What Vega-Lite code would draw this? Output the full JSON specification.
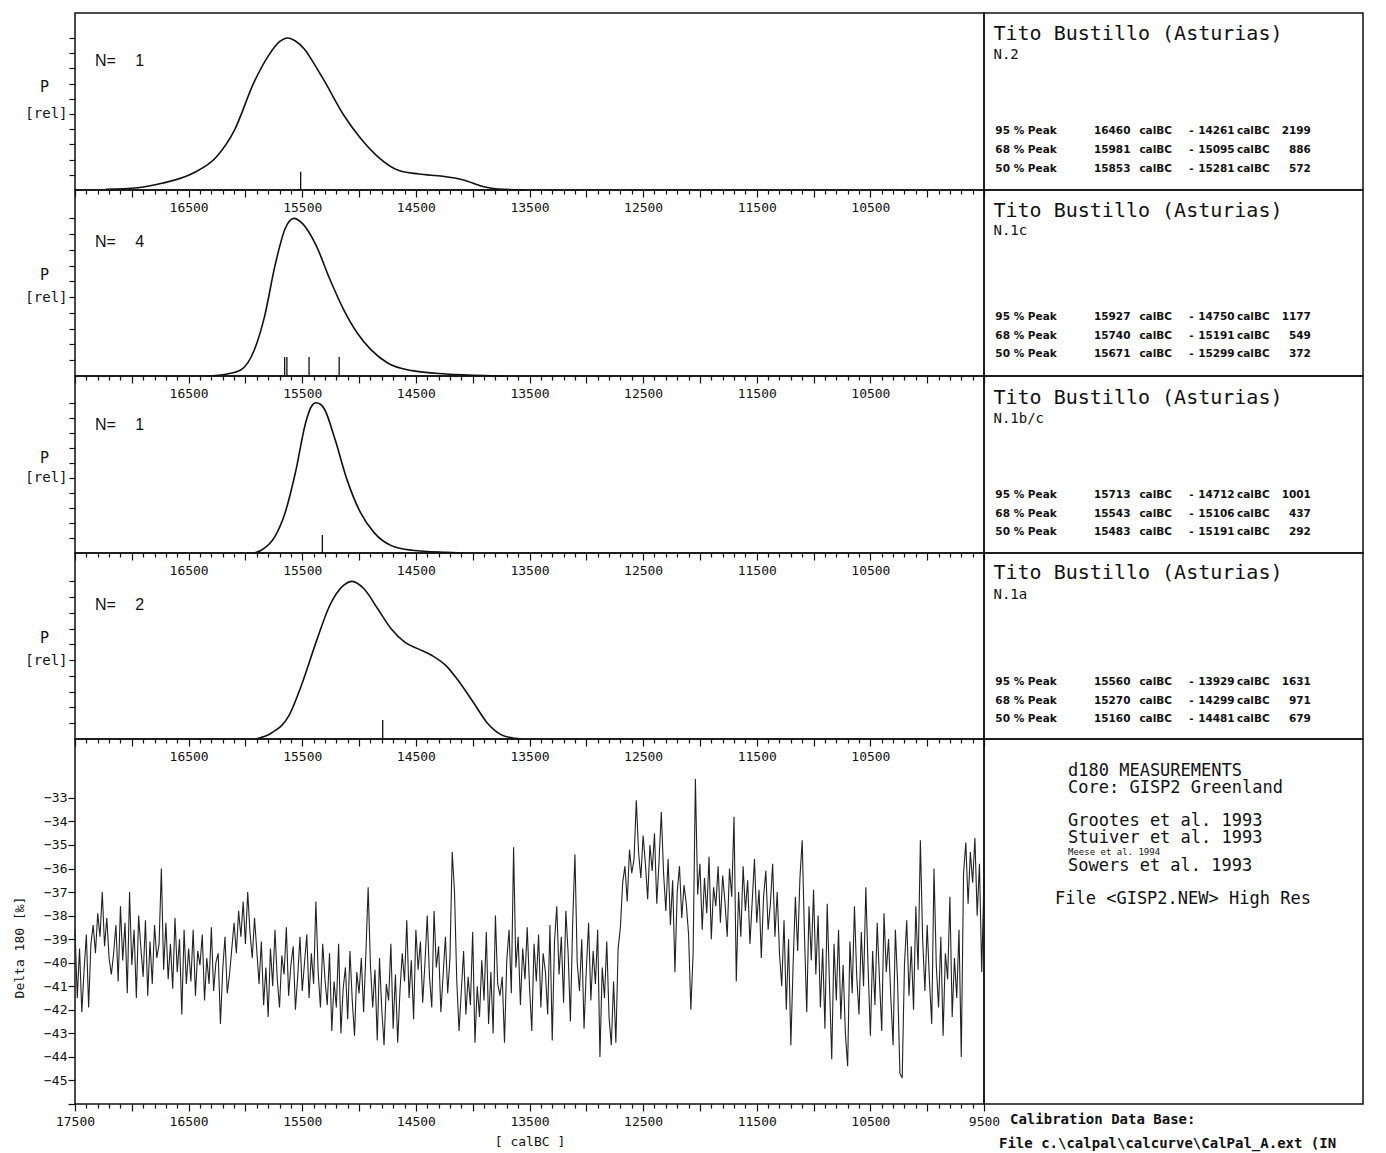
{
"$schema":"https://vega.github.io/schema/vega-lite/v6.json",
"background":"white",
"padding":{"left":12,"top":12,"right":0,"bottom":0},
"bounds":"flush",
"spacing":0,
"columns":2,
"align":"each",
"config":{
 "view":{"stroke":"#111","strokeWidth":1.5},
 "axis":{"labelFont":"DejaVu Sans Mono","labelColor":"#111","tickColor":"#111","tickWidth":1.2,"titleFont":"DejaVu Sans Mono","titleColor":"#111","titleFontWeight":"normal","domain":false,"grid":false,"labelOverlap":false,"labelFlush":false,"labelBound":false},
 "text":{"color":"#111"}
},
"datasets":{
 "samples":[
  {"sample":"N.2","site":"Tito Bustillo (Asturias)","n":1},
  {"sample":"N.1c","site":"Tito Bustillo (Asturias)","n":4},
  {"sample":"N.1b/c","site":"Tito Bustillo (Asturias)","n":1},
  {"sample":"N.1a","site":"Tito Bustillo (Asturias)","n":2}
 ],
 "ranges":[
  {"sample":"N.2","level":"95 % Peak","from":16460,"to":14261,"span":2199},
  {"sample":"N.2","level":"68 % Peak","from":15981,"to":15095,"span":886},
  {"sample":"N.2","level":"50 % Peak","from":15853,"to":15281,"span":572},
  {"sample":"N.1c","level":"95 % Peak","from":15927,"to":14750,"span":1177},
  {"sample":"N.1c","level":"68 % Peak","from":15740,"to":15191,"span":549},
  {"sample":"N.1c","level":"50 % Peak","from":15671,"to":15299,"span":372},
  {"sample":"N.1b/c","level":"95 % Peak","from":15713,"to":14712,"span":1001},
  {"sample":"N.1b/c","level":"68 % Peak","from":15543,"to":15106,"span":437},
  {"sample":"N.1b/c","level":"50 % Peak","from":15483,"to":15191,"span":292},
  {"sample":"N.1a","level":"95 % Peak","from":15560,"to":13929,"span":1631},
  {"sample":"N.1a","level":"68 % Peak","from":15270,"to":14299,"span":971},
  {"sample":"N.1a","level":"50 % Peak","from":15160,"to":14481,"span":679}
 ],
 "markers":[
  {"sample":"N.2","age":15514},
  {"sample":"N.1c","age":15655},{"sample":"N.1c","age":15635},{"sample":"N.1c","age":15440},{"sample":"N.1c","age":15175},
  {"sample":"N.1b/c","age":15323},
  {"sample":"N.1a","age":14792}
 ],
 "density":[
  {"sample":"N.2","age":17232,"p":0.005},{"sample":"N.2","age":16946,"p":0.015},{"sample":"N.2","age":16734,"p":0.044},{"sample":"N.2","age":16463,"p":0.11},{"sample":"N.2","age":16252,"p":0.22},{"sample":"N.2","age":16102,"p":0.385},{"sample":"N.2","age":15921,"p":0.714},{"sample":"N.2","age":15800,"p":0.88},{"sample":"N.2","age":15700,"p":0.975},{"sample":"N.2","age":15630,"p":1.0},{"sample":"N.2","age":15560,"p":0.98},{"sample":"N.2","age":15480,"p":0.925},{"sample":"N.2","age":15409,"p":0.846},{"sample":"N.2","age":15303,"p":0.714},{"sample":"N.2","age":15137,"p":0.495},{"sample":"N.2","age":14987,"p":0.34},{"sample":"N.2","age":14836,"p":0.22},{"sample":"N.2","age":14655,"p":0.13},{"sample":"N.2","age":14474,"p":0.105},{"sample":"N.2","age":14263,"p":0.09},{"sample":"N.2","age":14082,"p":0.066},{"sample":"N.2","age":13901,"p":0.022},{"sample":"N.2","age":13781,"p":0.007},{"sample":"N.2","age":13540,"p":0.0},
  {"sample":"N.1c","age":16343,"p":0.0},{"sample":"N.1c","age":16162,"p":0.013},{"sample":"N.1c","age":16042,"p":0.038},{"sample":"N.1c","age":15921,"p":0.167},{"sample":"N.1c","age":15831,"p":0.38},{"sample":"N.1c","age":15740,"p":0.7},{"sample":"N.1c","age":15650,"p":0.936},{"sample":"N.1c","age":15575,"p":1.0},{"sample":"N.1c","age":15499,"p":0.968},{"sample":"N.1c","age":15379,"p":0.83},{"sample":"N.1c","age":15258,"p":0.615},{"sample":"N.1c","age":15137,"p":0.423},{"sample":"N.1c","age":15016,"p":0.273},{"sample":"N.1c","age":14896,"p":0.167},{"sample":"N.1c","age":14745,"p":0.081},{"sample":"N.1c","age":14534,"p":0.034},{"sample":"N.1c","age":14233,"p":0.013},{"sample":"N.1c","age":13842,"p":0.002},{"sample":"N.1c","age":13720,"p":0.0},
  {"sample":"N.1b/c","age":15921,"p":0.0},{"sample":"N.1b/c","age":15861,"p":0.018},{"sample":"N.1b/c","age":15740,"p":0.11},{"sample":"N.1b/c","age":15650,"p":0.27},{"sample":"N.1b/c","age":15560,"p":0.536},{"sample":"N.1b/c","age":15469,"p":0.87},{"sample":"N.1b/c","age":15420,"p":0.975},{"sample":"N.1b/c","age":15379,"p":1.0},{"sample":"N.1b/c","age":15340,"p":0.99},{"sample":"N.1b/c","age":15303,"p":0.955},{"sample":"N.1b/c","age":15213,"p":0.76},{"sample":"N.1b/c","age":15107,"p":0.49},{"sample":"N.1b/c","age":14987,"p":0.268},{"sample":"N.1b/c","age":14866,"p":0.134},{"sample":"N.1b/c","age":14716,"p":0.049},{"sample":"N.1b/c","age":14534,"p":0.018},{"sample":"N.1b/c","age":14233,"p":0.004},{"sample":"N.1b/c","age":14082,"p":0.0},
  {"sample":"N.1a","age":15907,"p":0.0},{"sample":"N.1a","age":15771,"p":0.038},{"sample":"N.1a","age":15620,"p":0.145},{"sample":"N.1a","age":15499,"p":0.357},{"sample":"N.1a","age":15379,"p":0.613},{"sample":"N.1a","age":15258,"p":0.847},{"sample":"N.1a","age":15137,"p":0.974},{"sample":"N.1a","age":15062,"p":1.0},{"sample":"N.1a","age":14957,"p":0.953},{"sample":"N.1a","age":14836,"p":0.826},{"sample":"N.1a","age":14716,"p":0.698},{"sample":"N.1a","age":14595,"p":0.613},{"sample":"N.1a","age":14474,"p":0.57},{"sample":"N.1a","age":14354,"p":0.528},{"sample":"N.1a","age":14233,"p":0.464},{"sample":"N.1a","age":14113,"p":0.357},{"sample":"N.1a","age":13992,"p":0.23},{"sample":"N.1a","age":13872,"p":0.102},{"sample":"N.1a","age":13751,"p":0.028},{"sample":"N.1a","age":13630,"p":0.004},{"sample":"N.1a","age":13571,"p":0.0}
 ],
 "gisp2":[
{"age":17500,"d18O":-38.6},{"age":17480,"d18O":-41.5},{"age":17460,"d18O":-39.4},{"age":17440,"d18O":-42.1},{"age":17420,"d18O":-40.3},{"age":17400,"d18O":-38.8},{"age":17380,"d18O":-41.9},{"age":17360,"d18O":-39.2},
{"age":17340,"d18O":-38.4},{"age":17320,"d18O":-39.6},{"age":17300,"d18O":-37.9},{"age":17280,"d18O":-38.9},{"age":17260,"d18O":-37.0},{"age":17240,"d18O":-39.3},{"age":17220,"d18O":-38.1},
{"age":17200,"d18O":-39.8},{"age":17180,"d18O":-40.5},{"age":17160,"d18O":-39.6},
{"age":17140,"d18O":-38.4},{"age":17120,"d18O":-40.8},{"age":17100,"d18O":-37.6},{"age":17080,"d18O":-39.9},{"age":17060,"d18O":-38.3},{"age":17040,"d18O":-41.3},{"age":17020,"d18O":-37.0},{"age":17000,"d18O":-40.1},{"age":16980,"d18O":-38.6},{"age":16960,"d18O":-41.5},{"age":16940,"d18O":-38.0},{"age":16920,"d18O":-39.4},{"age":16900,"d18O":-40.6},
{"age":16880,"d18O":-38.2},{"age":16860,"d18O":-41.4},{"age":16840,"d18O":-39.1},{"age":16820,"d18O":-40.9},{"age":16800,"d18O":-38.4},{"age":16780,"d18O":-39.8},
{"age":16760,"d18O":-39.2},{"age":16740,"d18O":-36.0},{"age":16720,"d18O":-40.3},
{"age":16700,"d18O":-38.3},{"age":16680,"d18O":-40.7},{"age":16660,"d18O":-39.2},{"age":16640,"d18O":-41.1},{"age":16620,"d18O":-38.1},{"age":16600,"d18O":-40.4},{"age":16580,"d18O":-39.0},{"age":16560,"d18O":-42.2},{"age":16540,"d18O":-38.6},{"age":16520,"d18O":-40.9},{"age":16500,"d18O":-39.4},
{"age":16480,"d18O":-40.8},{"age":16460,"d18O":-38.6},{"age":16440,"d18O":-41.4},{"age":16420,"d18O":-39.5},{"age":16400,"d18O":-40.1},{"age":16380,"d18O":-38.8},{"age":16360,"d18O":-41.6},{"age":16340,"d18O":-39.8},{"age":16320,"d18O":-40.9},{"age":16300,"d18O":-38.5},{"age":16280,"d18O":-41.2},{"age":16260,"d18O":-40.0},{"age":16240,"d18O":-39.6},{"age":16220,"d18O":-42.6},{"age":16200,"d18O":-40.3},{"age":16180,"d18O":-38.9},{"age":16160,"d18O":-41.3},{"age":16140,"d18O":-40.5},{"age":16120,"d18O":-39.4},
{"age":16100,"d18O":-38.3},{"age":16080,"d18O":-39.6},{"age":16060,"d18O":-37.8},{"age":16040,"d18O":-38.9},{"age":16020,"d18O":-37.4},{"age":16000,"d18O":-39.2},{"age":15980,"d18O":-37.0},{"age":15960,"d18O":-38.7},{"age":15940,"d18O":-39.8},{"age":15920,"d18O":-38.1},{"age":15900,"d18O":-39.5},
{"age":15880,"d18O":-40.9},{"age":15860,"d18O":-39.1},{"age":15840,"d18O":-41.8},{"age":15820,"d18O":-40.2},{"age":15800,"d18O":-42.3},{"age":15780,"d18O":-39.4},{"age":15760,"d18O":-41.0},{"age":15740,"d18O":-38.6},{"age":15720,"d18O":-40.7},{"age":15700,"d18O":-41.9},{"age":15680,"d18O":-39.7},{"age":15660,"d18O":-40.5},{"age":15640,"d18O":-38.5},{"age":15620,"d18O":-41.4},{"age":15600,"d18O":-40.1},{"age":15580,"d18O":-39.3},{"age":15560,"d18O":-42.0},{"age":15540,"d18O":-40.6},{"age":15520,"d18O":-38.9},{"age":15500,"d18O":-41.2},
{"age":15480,"d18O":-40.0},{"age":15460,"d18O":-38.8},{"age":15440,"d18O":-41.5},{"age":15420,"d18O":-39.6},{"age":15400,"d18O":-40.9},{"age":15380,"d18O":-37.4},{"age":15360,"d18O":-40.4},{"age":15340,"d18O":-41.9},{"age":15320,"d18O":-39.2},{"age":15300,"d18O":-40.7},
{"age":15280,"d18O":-41.8},{"age":15260,"d18O":-39.6},{"age":15240,"d18O":-42.9},{"age":15220,"d18O":-40.8},{"age":15200,"d18O":-41.9},{"age":15180,"d18O":-39.2},{"age":15160,"d18O":-43.0},{"age":15140,"d18O":-41.1},{"age":15120,"d18O":-40.2},{"age":15100,"d18O":-42.4},{"age":15080,"d18O":-39.5},{"age":15060,"d18O":-41.6},{"age":15040,"d18O":-43.1},{"age":15020,"d18O":-40.4},{"age":15000,"d18O":-41.3},{"age":14980,"d18O":-39.8},{"age":14960,"d18O":-42.1},
{"age":14940,"d18O":-39.6},{"age":14920,"d18O":-36.8},{"age":14900,"d18O":-40.1},
{"age":14880,"d18O":-41.9},{"age":14860,"d18O":-40.3},{"age":14840,"d18O":-43.3},{"age":14820,"d18O":-39.8},{"age":14800,"d18O":-42.0},{"age":14780,"d18O":-43.5},{"age":14760,"d18O":-40.9},{"age":14740,"d18O":-41.6},{"age":14720,"d18O":-39.2},{"age":14700,"d18O":-42.8},{"age":14680,"d18O":-40.5},{"age":14660,"d18O":-43.4},{"age":14640,"d18O":-41.2},
{"age":14620,"d18O":-39.6},{"age":14600,"d18O":-40.8},{"age":14580,"d18O":-38.2},{"age":14560,"d18O":-41.5},{"age":14540,"d18O":-39.9},{"age":14520,"d18O":-42.4},{"age":14500,"d18O":-38.6},{"age":14480,"d18O":-40.3},{"age":14460,"d18O":-39.1},{"age":14440,"d18O":-41.7},{"age":14420,"d18O":-40.0},{"age":14400,"d18O":-38.0},{"age":14380,"d18O":-40.6},{"age":14360,"d18O":-41.9},{"age":14340,"d18O":-37.8},{"age":14320,"d18O":-40.2},{"age":14300,"d18O":-39.3},{"age":14280,"d18O":-42.1},{"age":14260,"d18O":-40.5},{"age":14240,"d18O":-38.9},{"age":14220,"d18O":-41.3},{"age":14200,"d18O":-39.8},
{"age":14180,"d18O":-35.3},{"age":14160,"d18O":-37.0},
{"age":14140,"d18O":-40.8},{"age":14120,"d18O":-42.9},{"age":14100,"d18O":-41.2},{"age":14080,"d18O":-39.5},{"age":14060,"d18O":-42.2},{"age":14040,"d18O":-40.6},{"age":14020,"d18O":-41.8},{"age":14000,"d18O":-38.7},{"age":13980,"d18O":-43.4},{"age":13960,"d18O":-41.0},{"age":13940,"d18O":-42.3},{"age":13920,"d18O":-39.9},{"age":13900,"d18O":-41.6},
{"age":13880,"d18O":-38.7},{"age":13860,"d18O":-42.6},{"age":13840,"d18O":-40.4},{"age":13820,"d18O":-43.0},
{"age":13800,"d18O":-38.0},{"age":13780,"d18O":-40.9},{"age":13760,"d18O":-41.4},{"age":13740,"d18O":-40.6},{"age":13720,"d18O":-43.4},
{"age":13700,"d18O":-39.9},{"age":13680,"d18O":-38.6},{"age":13660,"d18O":-41.3},{"age":13640,"d18O":-35.1},{"age":13620,"d18O":-40.2},{"age":13600,"d18O":-38.9},{"age":13580,"d18O":-41.8},{"age":13560,"d18O":-39.4},{"age":13540,"d18O":-40.7},{"age":13520,"d18O":-38.5},{"age":13500,"d18O":-41.0},
{"age":13480,"d18O":-42.9},{"age":13460,"d18O":-39.2},{"age":13440,"d18O":-40.8},{"age":13420,"d18O":-38.8},{"age":13400,"d18O":-41.9},{"age":13380,"d18O":-39.6},{"age":13360,"d18O":-40.4},{"age":13340,"d18O":-42.2},
{"age":13320,"d18O":-38.4},{"age":13300,"d18O":-43.3},{"age":13280,"d18O":-39.1},{"age":13260,"d18O":-37.6},{"age":13240,"d18O":-40.5},{"age":13220,"d18O":-38.9},{"age":13200,"d18O":-41.7},{"age":13180,"d18O":-37.8},{"age":13160,"d18O":-39.6},{"age":13140,"d18O":-42.5},{"age":13120,"d18O":-38.3},{"age":13100,"d18O":-35.4},{"age":13080,"d18O":-40.0},
{"age":13060,"d18O":-41.2},{"age":13040,"d18O":-39.0},{"age":13020,"d18O":-42.8},{"age":13000,"d18O":-40.3},{"age":12980,"d18O":-38.3},{"age":12960,"d18O":-41.6},{"age":12940,"d18O":-39.5},{"age":12920,"d18O":-40.9},{"age":12900,"d18O":-38.6},{"age":12880,"d18O":-44.0},{"age":12860,"d18O":-40.2},{"age":12840,"d18O":-41.5},{"age":12820,"d18O":-39.1},{"age":12800,"d18O":-42.3},{"age":12780,"d18O":-43.5},{"age":12760,"d18O":-40.8},{"age":12740,"d18O":-43.4},{"age":12720,"d18O":-39.4},
{"age":12700,"d18O":-38.5},{"age":12680,"d18O":-36.6},{"age":12660,"d18O":-35.9},{"age":12640,"d18O":-37.4},{"age":12620,"d18O":-35.2},{"age":12600,"d18O":-36.2},{"age":12580,"d18O":-35.6},{"age":12560,"d18O":-33.1},
{"age":12540,"d18O":-35.3},{"age":12520,"d18O":-36.4},{"age":12500,"d18O":-34.6},{"age":12480,"d18O":-35.8},{"age":12460,"d18O":-37.3},{"age":12440,"d18O":-35.0},{"age":12420,"d18O":-36.1},{"age":12400,"d18O":-34.5},{"age":12380,"d18O":-37.5},{"age":12360,"d18O":-35.7},{"age":12340,"d18O":-33.6},
{"age":12320,"d18O":-36.2},{"age":12300,"d18O":-37.8},{"age":12280,"d18O":-35.6},{"age":12260,"d18O":-38.4},{"age":12240,"d18O":-36.5},{"age":12220,"d18O":-40.4},{"age":12200,"d18O":-37.0},{"age":12180,"d18O":-35.9},{"age":12160,"d18O":-38.1},{"age":12140,"d18O":-36.7},{"age":12120,"d18O":-37.5},
{"age":12100,"d18O":-38.8},{"age":12080,"d18O":-42.0},{"age":12060,"d18O":-39.6},{"age":12040,"d18O":-32.2},
{"age":12020,"d18O":-37.1},{"age":12000,"d18O":-35.8},{"age":11980,"d18O":-38.6},{"age":11960,"d18O":-36.4},{"age":11940,"d18O":-37.9},{"age":11920,"d18O":-35.5},{"age":11900,"d18O":-39.0},{"age":11880,"d18O":-36.8},{"age":11860,"d18O":-37.6},{"age":11840,"d18O":-35.9},{"age":11820,"d18O":-38.3},{"age":11800,"d18O":-36.3},{"age":11780,"d18O":-37.4},{"age":11760,"d18O":-38.9},{"age":11740,"d18O":-36.0},{"age":11720,"d18O":-37.2},{"age":11700,"d18O":-33.8},{"age":11680,"d18O":-40.8},
{"age":11660,"d18O":-37.0},{"age":11640,"d18O":-38.9},{"age":11620,"d18O":-35.9},{"age":11600,"d18O":-37.8},{"age":11580,"d18O":-36.5},{"age":11560,"d18O":-39.2},{"age":11540,"d18O":-37.4},{"age":11520,"d18O":-35.6},{"age":11500,"d18O":-38.3},{"age":11480,"d18O":-36.9},{"age":11460,"d18O":-39.8},{"age":11440,"d18O":-37.2},{"age":11420,"d18O":-36.1},{"age":11400,"d18O":-38.6},{"age":11380,"d18O":-37.5},{"age":11360,"d18O":-35.8},{"age":11340,"d18O":-38.9},{"age":11320,"d18O":-37.0},
{"age":11300,"d18O":-39.6},{"age":11280,"d18O":-41.0},{"age":11260,"d18O":-38.2},{"age":11240,"d18O":-42.0},{"age":11220,"d18O":-39.0},{"age":11200,"d18O":-43.5},{"age":11180,"d18O":-40.1},
{"age":11160,"d18O":-37.2},{"age":11140,"d18O":-39.5},{"age":11120,"d18O":-36.4},{"age":11100,"d18O":-34.8},{"age":11080,"d18O":-38.8},{"age":11060,"d18O":-42.1},{"age":11040,"d18O":-37.6},{"age":11020,"d18O":-39.9},{"age":11000,"d18O":-36.9},
{"age":10980,"d18O":-40.5},{"age":10960,"d18O":-38.0},{"age":10940,"d18O":-41.9},{"age":10920,"d18O":-39.4},{"age":10900,"d18O":-42.8},{"age":10880,"d18O":-37.5},{"age":10860,"d18O":-40.9},{"age":10840,"d18O":-44.1},{"age":10820,"d18O":-39.2},{"age":10800,"d18O":-41.6},{"age":10780,"d18O":-38.6},{"age":10760,"d18O":-42.4},{"age":10740,"d18O":-40.1},{"age":10720,"d18O":-43.0},{"age":10700,"d18O":-44.4},
{"age":10680,"d18O":-39.1},{"age":10660,"d18O":-41.3},{"age":10640,"d18O":-37.6},{"age":10620,"d18O":-40.6},{"age":10600,"d18O":-42.2},{"age":10580,"d18O":-38.7},{"age":10560,"d18O":-41.0},{"age":10540,"d18O":-36.8},{"age":10520,"d18O":-40.2},{"age":10500,"d18O":-43.1},{"age":10480,"d18O":-39.5},{"age":10460,"d18O":-41.8},{"age":10440,"d18O":-38.3},{"age":10420,"d18O":-40.7},{"age":10400,"d18O":-42.9},{"age":10380,"d18O":-37.9},{"age":10360,"d18O":-40.4},{"age":10340,"d18O":-39.0},{"age":10320,"d18O":-41.5},{"age":10300,"d18O":-43.5},{"age":10280,"d18O":-38.6},{"age":10260,"d18O":-40.9},{"age":10240,"d18O":-44.7},
{"age":10220,"d18O":-44.9},{"age":10200,"d18O":-40.1},{"age":10180,"d18O":-38.2},{"age":10160,"d18O":-41.4},{"age":10140,"d18O":-39.3},{"age":10120,"d18O":-42.0},{"age":10100,"d18O":-37.6},{"age":10080,"d18O":-40.3},{"age":10060,"d18O":-34.8},{"age":10040,"d18O":-39.0},
{"age":10020,"d18O":-41.2},{"age":10000,"d18O":-38.4},{"age":9980,"d18O":-40.8},{"age":9960,"d18O":-42.6},{"age":9940,"d18O":-36.0},{"age":9920,"d18O":-40.1},{"age":9900,"d18O":-41.9},{"age":9880,"d18O":-38.9},{"age":9860,"d18O":-43.1},{"age":9840,"d18O":-39.6},{"age":9820,"d18O":-40.7},{"age":9800,"d18O":-37.2},{"age":9780,"d18O":-42.3},{"age":9760,"d18O":-39.8},{"age":9740,"d18O":-41.5},{"age":9720,"d18O":-38.6},{"age":9700,"d18O":-44.0},
{"age":9680,"d18O":-36.2},{"age":9660,"d18O":-34.9},{"age":9640,"d18O":-37.5},{"age":9620,"d18O":-35.3},{"age":9600,"d18O":-36.6},{"age":9580,"d18O":-34.7},{"age":9560,"d18O":-38.0},{"age":9540,"d18O":-35.8},{"age":9520,"d18O":-40.4},{"age":9500,"d18O":-36.4}
 ]
},
"concat":[
  {"width":909,"height":177,
   "resolve":{"axis":{"x":"independent","y":"independent"}},
   "layer":[
    {"data":{"name":"density"},"transform":[{"filter":"datum.sample === 'N.2'"}],
     "mark":{"type":"line","interpolate":"monotone","color":"#111","strokeWidth":1.6},
     "encoding":{
      "x":{"field":"age","type":"quantitative","scale":{"domain":[9500,17500],"reverse":true,"nice":false,"zero":false},
        "axis":{"orient":"bottom","values":[9500,9600,9700,9800,9900,10000,10100,10200,10300,10400,10500,10600,10700,10800,10900,11000,11100,11200,11300,11400,11500,11600,11700,11800,11900,12000,12100,12200,12300,12400,12500,12600,12700,12800,12900,13000,13100,13200,13300,13400,13500,13600,13700,13800,13900,14000,14100,14200,14300,14400,14500,14600,14700,14800,14900,15000,15100,15200,15300,15400,15500,15600,15700,15800,15900,16000,16100,16200,16300,16400,16500,16600,16700,16800,16900,17000,17100,17200,17300,17400,17500],"format":"d","labelExpr":"(datum.value % 1000 === 500 && datum.value > 9500 && datum.value < 17500) ? datum.label : ''","labelOverlap":false,"tickSize":{"condition":{"test":"datum.value % 500 === 0","value":7},"value":4},"labelFontSize":13,"labelPadding":4,"title":null}},
      "y":{"field":"p","type":"quantitative","scale":{"domain":[0,1.164],"nice":false},
        "axis":{"orient":"left","values":[0.1,0.2,0.3,0.4,0.5,0.6,0.7,0.8,0.9,1],"labelExpr":"datum.value === 0.5 ? '[rel]' : ''","tickSize":6,"labelFontSize":14,"labelPadding":2,"title":"P","titleAngle":0,"titleX":-31,"titleY":73,"titleAlign":"center","titleBaseline":"middle","titleFontSize":15}}}},
    {"data":{"name":"markers"},"transform":[{"filter":"datum.sample === 'N.2'"}],
     "mark":{"type":"rule","color":"#111","strokeWidth":1.3},
     "encoding":{"x":{"field":"age","type":"quantitative","axis":null},"y":{"datum":0,"axis":null},"y2":{"datum":0.12}}},
    {"data":{"name":"samples"},"transform":[{"filter":"datum.sample === 'N.2'"}],
     "mark":{"type":"text","align":"left","baseline":"middle","font":"Liberation Sans","fontSize":16},
     "encoding":{"x":{"datum":17324,"axis":null},"y":{"datum":0.85,"axis":null},"text":{"value":"N="}}},
    {"data":{"name":"samples"},"transform":[{"filter":"datum.sample === 'N.2'"}],
     "mark":{"type":"text","align":"center","baseline":"middle","font":"Liberation Sans","fontSize":16},
     "encoding":{"x":{"datum":16931,"axis":null},"y":{"datum":0.85,"axis":null},"text":{"field":"n"}}}
   ]},
  {"width":379,"height":177,
   "resolve":{"scale":{"y":"independent"}},
   "layer":[
    {"data":{"name":"samples"},"transform":[{"filter":"datum.sample === 'N.2'"}],
     "encoding":{"x":{"datum":10,"type":"quantitative","scale":{"domain":[0,379]},"axis":null}},
     "layer":[
      {"mark":{"type":"text","align":"left","baseline":"middle","font":"DejaVu Sans Mono","fontSize":20},
       "encoding":{"y":{"datum":21,"type":"quantitative","scale":{"domain":[0,177],"reverse":true},"axis":null},"text":{"field":"site"}}},
      {"mark":{"type":"text","align":"left","baseline":"middle","font":"DejaVu Sans Mono","fontSize":14},
       "encoding":{"y":{"datum":43,"type":"quantitative"},"text":{"field":"sample"}}}
     ]},
    {"data":{"name":"ranges"},"transform":[{"filter":"datum.sample === 'N.2'"}],
     "encoding":{"y":{"field":"level","type":"ordinal","scale":{"type":"point","domain":["95 % Peak","68 % Peak","50 % Peak"],"range":[118,156],"padding":0},"axis":null}},
     "layer":[
      {"mark":{"type":"text","align":"left","baseline":"middle","font":"DejaVu Sans","fontWeight":"bold","fontSize":10.5},"encoding":{"x":{"datum":12,"type":"quantitative"},"text":{"field":"level"}}},
      {"mark":{"type":"text","align":"left","baseline":"middle","font":"DejaVu Sans","fontWeight":"bold","fontSize":10.5},"encoding":{"x":{"datum":116,"type":"quantitative"},"text":{"field":"from","type":"quantitative","format":"d"}}},
      {"mark":{"type":"text","align":"left","baseline":"middle","font":"DejaVu Sans","fontWeight":"bold","fontSize":10.5},"encoding":{"x":{"datum":164,"type":"quantitative"},"text":{"value":"calBC"}}},
      {"mark":{"type":"text","align":"center","baseline":"middle","font":"DejaVu Sans","fontWeight":"bold","fontSize":10.5},"encoding":{"x":{"datum":219,"type":"quantitative"},"text":{"value":"-"}}},
      {"mark":{"type":"text","align":"left","baseline":"middle","font":"DejaVu Sans","fontWeight":"bold","fontSize":10.5},"encoding":{"x":{"datum":226,"type":"quantitative"},"text":{"field":"to","type":"quantitative","format":"d"}}},
      {"mark":{"type":"text","align":"left","baseline":"middle","font":"DejaVu Sans","fontWeight":"bold","fontSize":10.5},"encoding":{"x":{"datum":267,"type":"quantitative"},"text":{"value":"calBC"}}},
      {"mark":{"type":"text","align":"right","baseline":"middle","font":"DejaVu Sans","fontWeight":"bold","fontSize":10.5},"encoding":{"x":{"datum":345,"type":"quantitative"},"text":{"field":"span","type":"quantitative","format":"d"}}}
     ]}
   ]},
  {"width":909,"height":186,
   "resolve":{"axis":{"x":"independent","y":"independent"}},
   "layer":[
    {"data":{"name":"density"},"transform":[{"filter":"datum.sample === 'N.1c'"}],
     "mark":{"type":"line","interpolate":"monotone","color":"#111","strokeWidth":1.6},
     "encoding":{
      "x":{"field":"age","type":"quantitative","scale":{"domain":[9500,17500],"reverse":true,"nice":false,"zero":false},
        "axis":{"orient":"bottom","values":[9500,9600,9700,9800,9900,10000,10100,10200,10300,10400,10500,10600,10700,10800,10900,11000,11100,11200,11300,11400,11500,11600,11700,11800,11900,12000,12100,12200,12300,12400,12500,12600,12700,12800,12900,13000,13100,13200,13300,13400,13500,13600,13700,13800,13900,14000,14100,14200,14300,14400,14500,14600,14700,14800,14900,15000,15100,15200,15300,15400,15500,15600,15700,15800,15900,16000,16100,16200,16300,16400,16500,16600,16700,16800,16900,17000,17100,17200,17300,17400,17500],"format":"d","labelExpr":"(datum.value % 1000 === 500 && datum.value > 9500 && datum.value < 17500) ? datum.label : ''","labelOverlap":false,"tickSize":{"condition":{"test":"datum.value % 500 === 0","value":7},"value":4},"labelFontSize":13,"labelPadding":4,"title":null}},
      "y":{"field":"p","type":"quantitative","scale":{"domain":[0,1.18],"nice":false},
        "axis":{"orient":"left","values":[0.1,0.2,0.3,0.4,0.5,0.6,0.7,0.8,0.9,1],"labelExpr":"datum.value === 0.5 ? '[rel]' : ''","tickSize":6,"labelFontSize":14,"labelPadding":2,"title":"P","titleAngle":0,"titleX":-31,"titleY":84,"titleAlign":"center","titleBaseline":"middle","titleFontSize":15}}}},
    {"data":{"name":"markers"},"transform":[{"filter":"datum.sample === 'N.1c'"}],
     "mark":{"type":"rule","color":"#111","strokeWidth":1.3},
     "encoding":{"x":{"field":"age","type":"quantitative","axis":null},"y":{"datum":0,"axis":null},"y2":{"datum":0.12}}},
    {"data":{"name":"samples"},"transform":[{"filter":"datum.sample === 'N.1c'"}],
     "mark":{"type":"text","align":"left","baseline":"middle","font":"Liberation Sans","fontSize":16},
     "encoding":{"x":{"datum":17324,"axis":null},"y":{"datum":0.85,"axis":null},"text":{"value":"N="}}},
    {"data":{"name":"samples"},"transform":[{"filter":"datum.sample === 'N.1c'"}],
     "mark":{"type":"text","align":"center","baseline":"middle","font":"Liberation Sans","fontSize":16},
     "encoding":{"x":{"datum":16931,"axis":null},"y":{"datum":0.85,"axis":null},"text":{"field":"n"}}}
   ]},
  {"width":379,"height":186,
   "resolve":{"scale":{"y":"independent"}},
   "layer":[
    {"data":{"name":"samples"},"transform":[{"filter":"datum.sample === 'N.1c'"}],
     "encoding":{"x":{"datum":10,"type":"quantitative","scale":{"domain":[0,379]},"axis":null}},
     "layer":[
      {"mark":{"type":"text","align":"left","baseline":"middle","font":"DejaVu Sans Mono","fontSize":20},
       "encoding":{"y":{"datum":23,"type":"quantitative","scale":{"domain":[0,186],"reverse":true},"axis":null},"text":{"field":"site"}}},
      {"mark":{"type":"text","align":"left","baseline":"middle","font":"DejaVu Sans Mono","fontSize":14},
       "encoding":{"y":{"datum":44,"type":"quantitative"},"text":{"field":"sample"}}}
     ]},
    {"data":{"name":"ranges"},"transform":[{"filter":"datum.sample === 'N.1c'"}],
     "encoding":{"y":{"field":"level","type":"ordinal","scale":{"type":"point","domain":["95 % Peak","68 % Peak","50 % Peak"],"range":[127,164],"padding":0},"axis":null}},
     "layer":[
      {"mark":{"type":"text","align":"left","baseline":"middle","font":"DejaVu Sans","fontWeight":"bold","fontSize":10.5},"encoding":{"x":{"datum":12,"type":"quantitative"},"text":{"field":"level"}}},
      {"mark":{"type":"text","align":"left","baseline":"middle","font":"DejaVu Sans","fontWeight":"bold","fontSize":10.5},"encoding":{"x":{"datum":116,"type":"quantitative"},"text":{"field":"from","type":"quantitative","format":"d"}}},
      {"mark":{"type":"text","align":"left","baseline":"middle","font":"DejaVu Sans","fontWeight":"bold","fontSize":10.5},"encoding":{"x":{"datum":164,"type":"quantitative"},"text":{"value":"calBC"}}},
      {"mark":{"type":"text","align":"center","baseline":"middle","font":"DejaVu Sans","fontWeight":"bold","fontSize":10.5},"encoding":{"x":{"datum":219,"type":"quantitative"},"text":{"value":"-"}}},
      {"mark":{"type":"text","align":"left","baseline":"middle","font":"DejaVu Sans","fontWeight":"bold","fontSize":10.5},"encoding":{"x":{"datum":226,"type":"quantitative"},"text":{"field":"to","type":"quantitative","format":"d"}}},
      {"mark":{"type":"text","align":"left","baseline":"middle","font":"DejaVu Sans","fontWeight":"bold","fontSize":10.5},"encoding":{"x":{"datum":267,"type":"quantitative"},"text":{"value":"calBC"}}},
      {"mark":{"type":"text","align":"right","baseline":"middle","font":"DejaVu Sans","fontWeight":"bold","fontSize":10.5},"encoding":{"x":{"datum":345,"type":"quantitative"},"text":{"field":"span","type":"quantitative","format":"d"}}}
     ]}
   ]},
  {"width":909,"height":177,
   "resolve":{"axis":{"x":"independent","y":"independent"}},
   "layer":[
    {"data":{"name":"density"},"transform":[{"filter":"datum.sample === 'N.1b/c'"}],
     "mark":{"type":"line","interpolate":"monotone","color":"#111","strokeWidth":1.6},
     "encoding":{
      "x":{"field":"age","type":"quantitative","scale":{"domain":[9500,17500],"reverse":true,"nice":false,"zero":false},
        "axis":{"orient":"bottom","values":[9500,9600,9700,9800,9900,10000,10100,10200,10300,10400,10500,10600,10700,10800,10900,11000,11100,11200,11300,11400,11500,11600,11700,11800,11900,12000,12100,12200,12300,12400,12500,12600,12700,12800,12900,13000,13100,13200,13300,13400,13500,13600,13700,13800,13900,14000,14100,14200,14300,14400,14500,14600,14700,14800,14900,15000,15100,15200,15300,15400,15500,15600,15700,15800,15900,16000,16100,16200,16300,16400,16500,16600,16700,16800,16900,17000,17100,17200,17300,17400,17500],"format":"d","labelExpr":"(datum.value % 1000 === 500 && datum.value > 9500 && datum.value < 17500) ? datum.label : ''","labelOverlap":false,"tickSize":{"condition":{"test":"datum.value % 500 === 0","value":7},"value":4},"labelFontSize":13,"labelPadding":4,"title":null}},
      "y":{"field":"p","type":"quantitative","scale":{"domain":[0,1.178],"nice":false},
        "axis":{"orient":"left","values":[0.1,0.2,0.3,0.4,0.5,0.6,0.7,0.8,0.9,1],"labelExpr":"datum.value === 0.5 ? '[rel]' : ''","tickSize":6,"labelFontSize":14,"labelPadding":2,"title":"P","titleAngle":0,"titleX":-31,"titleY":81,"titleAlign":"center","titleBaseline":"middle","titleFontSize":15}}}},
    {"data":{"name":"markers"},"transform":[{"filter":"datum.sample === 'N.1b/c'"}],
     "mark":{"type":"rule","color":"#111","strokeWidth":1.3},
     "encoding":{"x":{"field":"age","type":"quantitative","axis":null},"y":{"datum":0,"axis":null},"y2":{"datum":0.12}}},
    {"data":{"name":"samples"},"transform":[{"filter":"datum.sample === 'N.1b/c'"}],
     "mark":{"type":"text","align":"left","baseline":"middle","font":"Liberation Sans","fontSize":16},
     "encoding":{"x":{"datum":17324,"axis":null},"y":{"datum":0.85,"axis":null},"text":{"value":"N="}}},
    {"data":{"name":"samples"},"transform":[{"filter":"datum.sample === 'N.1b/c'"}],
     "mark":{"type":"text","align":"center","baseline":"middle","font":"Liberation Sans","fontSize":16},
     "encoding":{"x":{"datum":16931,"axis":null},"y":{"datum":0.85,"axis":null},"text":{"field":"n"}}}
   ]},
  {"width":379,"height":177,
   "resolve":{"scale":{"y":"independent"}},
   "layer":[
    {"data":{"name":"samples"},"transform":[{"filter":"datum.sample === 'N.1b/c'"}],
     "encoding":{"x":{"datum":10,"type":"quantitative","scale":{"domain":[0,379]},"axis":null}},
     "layer":[
      {"mark":{"type":"text","align":"left","baseline":"middle","font":"DejaVu Sans Mono","fontSize":20},
       "encoding":{"y":{"datum":22,"type":"quantitative","scale":{"domain":[0,177],"reverse":true},"axis":null},"text":{"field":"site"}}},
      {"mark":{"type":"text","align":"left","baseline":"middle","font":"DejaVu Sans Mono","fontSize":14},
       "encoding":{"y":{"datum":44,"type":"quantitative"},"text":{"field":"sample"}}}
     ]},
    {"data":{"name":"ranges"},"transform":[{"filter":"datum.sample === 'N.1b/c'"}],
     "encoding":{"y":{"field":"level","type":"ordinal","scale":{"type":"point","domain":["95 % Peak","68 % Peak","50 % Peak"],"range":[119,156],"padding":0},"axis":null}},
     "layer":[
      {"mark":{"type":"text","align":"left","baseline":"middle","font":"DejaVu Sans","fontWeight":"bold","fontSize":10.5},"encoding":{"x":{"datum":12,"type":"quantitative"},"text":{"field":"level"}}},
      {"mark":{"type":"text","align":"left","baseline":"middle","font":"DejaVu Sans","fontWeight":"bold","fontSize":10.5},"encoding":{"x":{"datum":116,"type":"quantitative"},"text":{"field":"from","type":"quantitative","format":"d"}}},
      {"mark":{"type":"text","align":"left","baseline":"middle","font":"DejaVu Sans","fontWeight":"bold","fontSize":10.5},"encoding":{"x":{"datum":164,"type":"quantitative"},"text":{"value":"calBC"}}},
      {"mark":{"type":"text","align":"center","baseline":"middle","font":"DejaVu Sans","fontWeight":"bold","fontSize":10.5},"encoding":{"x":{"datum":219,"type":"quantitative"},"text":{"value":"-"}}},
      {"mark":{"type":"text","align":"left","baseline":"middle","font":"DejaVu Sans","fontWeight":"bold","fontSize":10.5},"encoding":{"x":{"datum":226,"type":"quantitative"},"text":{"field":"to","type":"quantitative","format":"d"}}},
      {"mark":{"type":"text","align":"left","baseline":"middle","font":"DejaVu Sans","fontWeight":"bold","fontSize":10.5},"encoding":{"x":{"datum":267,"type":"quantitative"},"text":{"value":"calBC"}}},
      {"mark":{"type":"text","align":"right","baseline":"middle","font":"DejaVu Sans","fontWeight":"bold","fontSize":10.5},"encoding":{"x":{"datum":345,"type":"quantitative"},"text":{"field":"span","type":"quantitative","format":"d"}}}
     ]}
   ]},
  {"width":909,"height":186,
   "resolve":{"axis":{"x":"independent","y":"independent"}},
   "layer":[
    {"data":{"name":"density"},"transform":[{"filter":"datum.sample === 'N.1a'"}],
     "mark":{"type":"line","interpolate":"monotone","color":"#111","strokeWidth":1.6},
     "encoding":{
      "x":{"field":"age","type":"quantitative","scale":{"domain":[9500,17500],"reverse":true,"nice":false,"zero":false},
        "axis":{"orient":"bottom","values":[9500,9600,9700,9800,9900,10000,10100,10200,10300,10400,10500,10600,10700,10800,10900,11000,11100,11200,11300,11400,11500,11600,11700,11800,11900,12000,12100,12200,12300,12400,12500,12600,12700,12800,12900,13000,13100,13200,13300,13400,13500,13600,13700,13800,13900,14000,14100,14200,14300,14400,14500,14600,14700,14800,14900,15000,15100,15200,15300,15400,15500,15600,15700,15800,15900,16000,16100,16200,16300,16400,16500,16600,16700,16800,16900,17000,17100,17200,17300,17400,17500],"format":"d","labelExpr":"(datum.value % 1000 === 500 && datum.value > 9500 && datum.value < 17500) ? datum.label : ''","labelOverlap":false,"tickSize":{"condition":{"test":"datum.value % 500 === 0","value":7},"value":4},"labelFontSize":13,"labelPadding":4,"title":null}},
      "y":{"field":"p","type":"quantitative","scale":{"domain":[0,1.18],"nice":false},
        "axis":{"orient":"left","values":[0.1,0.2,0.3,0.4,0.5,0.6,0.7,0.8,0.9,1],"labelExpr":"datum.value === 0.5 ? '[rel]' : ''","tickSize":6,"labelFontSize":14,"labelPadding":2,"title":"P","titleAngle":0,"titleX":-31,"titleY":84,"titleAlign":"center","titleBaseline":"middle","titleFontSize":15}}}},
    {"data":{"name":"markers"},"transform":[{"filter":"datum.sample === 'N.1a'"}],
     "mark":{"type":"rule","color":"#111","strokeWidth":1.3},
     "encoding":{"x":{"field":"age","type":"quantitative","axis":null},"y":{"datum":0,"axis":null},"y2":{"datum":0.12}}},
    {"data":{"name":"samples"},"transform":[{"filter":"datum.sample === 'N.1a'"}],
     "mark":{"type":"text","align":"left","baseline":"middle","font":"Liberation Sans","fontSize":16},
     "encoding":{"x":{"datum":17324,"axis":null},"y":{"datum":0.85,"axis":null},"text":{"value":"N="}}},
    {"data":{"name":"samples"},"transform":[{"filter":"datum.sample === 'N.1a'"}],
     "mark":{"type":"text","align":"center","baseline":"middle","font":"Liberation Sans","fontSize":16},
     "encoding":{"x":{"datum":16931,"axis":null},"y":{"datum":0.85,"axis":null},"text":{"field":"n"}}}
   ]},
  {"width":379,"height":186,
   "resolve":{"scale":{"y":"independent"}},
   "layer":[
    {"data":{"name":"samples"},"transform":[{"filter":"datum.sample === 'N.1a'"}],
     "encoding":{"x":{"datum":10,"type":"quantitative","scale":{"domain":[0,379]},"axis":null}},
     "layer":[
      {"mark":{"type":"text","align":"left","baseline":"middle","font":"DejaVu Sans Mono","fontSize":20},
       "encoding":{"y":{"datum":21,"type":"quantitative","scale":{"domain":[0,186],"reverse":true},"axis":null},"text":{"field":"site"}}},
      {"mark":{"type":"text","align":"left","baseline":"middle","font":"DejaVu Sans Mono","fontSize":14},
       "encoding":{"y":{"datum":45,"type":"quantitative"},"text":{"field":"sample"}}}
     ]},
    {"data":{"name":"ranges"},"transform":[{"filter":"datum.sample === 'N.1a'"}],
     "encoding":{"y":{"field":"level","type":"ordinal","scale":{"type":"point","domain":["95 % Peak","68 % Peak","50 % Peak"],"range":[129,166],"padding":0},"axis":null}},
     "layer":[
      {"mark":{"type":"text","align":"left","baseline":"middle","font":"DejaVu Sans","fontWeight":"bold","fontSize":10.5},"encoding":{"x":{"datum":12,"type":"quantitative"},"text":{"field":"level"}}},
      {"mark":{"type":"text","align":"left","baseline":"middle","font":"DejaVu Sans","fontWeight":"bold","fontSize":10.5},"encoding":{"x":{"datum":116,"type":"quantitative"},"text":{"field":"from","type":"quantitative","format":"d"}}},
      {"mark":{"type":"text","align":"left","baseline":"middle","font":"DejaVu Sans","fontWeight":"bold","fontSize":10.5},"encoding":{"x":{"datum":164,"type":"quantitative"},"text":{"value":"calBC"}}},
      {"mark":{"type":"text","align":"center","baseline":"middle","font":"DejaVu Sans","fontWeight":"bold","fontSize":10.5},"encoding":{"x":{"datum":219,"type":"quantitative"},"text":{"value":"-"}}},
      {"mark":{"type":"text","align":"left","baseline":"middle","font":"DejaVu Sans","fontWeight":"bold","fontSize":10.5},"encoding":{"x":{"datum":226,"type":"quantitative"},"text":{"field":"to","type":"quantitative","format":"d"}}},
      {"mark":{"type":"text","align":"left","baseline":"middle","font":"DejaVu Sans","fontWeight":"bold","fontSize":10.5},"encoding":{"x":{"datum":267,"type":"quantitative"},"text":{"value":"calBC"}}},
      {"mark":{"type":"text","align":"right","baseline":"middle","font":"DejaVu Sans","fontWeight":"bold","fontSize":10.5},"encoding":{"x":{"datum":345,"type":"quantitative"},"text":{"field":"span","type":"quantitative","format":"d"}}}
     ]}
   ]},
  {"width":909,"height":365,
   "data":{"name":"gisp2"},
   "mark":{"type":"line","color":"#222","strokeWidth":1.1},
   "encoding":{
    "x":{"field":"age","type":"quantitative","scale":{"domain":[9500,17500],"reverse":true,"nice":false,"zero":false},
      "axis":{"values":[9500,9600,9700,9800,9900,10000,10100,10200,10300,10400,10500,10600,10700,10800,10900,11000,11100,11200,11300,11400,11500,11600,11700,11800,11900,12000,12100,12200,12300,12400,12500,12600,12700,12800,12900,13000,13100,13200,13300,13400,13500,13600,13700,13800,13900,14000,14100,14200,14300,14400,14500,14600,14700,14800,14900,15000,15100,15200,15300,15400,15500,15600,15700,15800,15900,16000,16100,16200,16300,16400,16500,16600,16700,16800,16900,17000,17100,17200,17300,17400,17500],"format":"d","labelExpr":"datum.value % 1000 === 500 ? datum.label : ''","labelOverlap":false,"tickSize":{"condition":{"test":"datum.value % 500 === 0","value":7},"value":4},"labelFontSize":13,"labelPadding":4,"title":"[ calBC ]","titleFontSize":13,"titlePadding":7}},
    "y":{"field":"d18O","type":"quantitative","scale":{"domain":[-46,-30.5],"nice":false,"zero":false},
      "axis":{"values":[-46,-45.5,-45,-44.5,-44,-43.5,-43,-42.5,-42,-41.5,-41,-40.5,-40,-39.5,-39,-38.5,-38,-37.5,-37,-36.5,-36,-35.5,-35,-34.5,-34,-33.5,-33],"format":"d","labelExpr":"(datum.value % 1 === 0 && datum.value >= -45) ? datum.label : ''","labelOverlap":false,"tickSize":{"condition":{"test":"datum.value % 1 === 0","value":7},"value":4},"labelFontSize":13,"labelPadding":1,"title":"Delta 180 [‰]","titleFontSize":13,"titlePadding":17,"titleY":208}}}},
  {"width":379,"height":365,
   "data":{"values":[{"core":"GISP2"}]},
   "encoding":{"x":{"datum":84,"type":"quantitative","scale":{"domain":[0,379]},"axis":null},"y":{"datum":0,"type":"quantitative","scale":{"domain":[0,365],"reverse":true},"axis":null}},
   "layer":[
    {"mark":{"type":"text","align":"left","baseline":"middle","font":"DejaVu Sans Mono","fontSize":17},"encoding":{"y":{"datum":32},"text":{"value":"d180 MEASUREMENTS"}}},
    {"mark":{"type":"text","align":"left","baseline":"middle","font":"DejaVu Sans Mono","fontSize":17},"encoding":{"y":{"datum":49},"text":{"value":"Core: GISP2 Greenland"}}},
    {"mark":{"type":"text","align":"left","baseline":"middle","font":"DejaVu Sans Mono","fontSize":17},"encoding":{"y":{"datum":82},"text":{"value":"Grootes et al. 1993"}}},
    {"mark":{"type":"text","align":"left","baseline":"middle","font":"DejaVu Sans Mono","fontSize":17},"encoding":{"y":{"datum":99},"text":{"value":"Stuiver et al. 1993"}}},
    {"mark":{"type":"text","align":"left","baseline":"middle","font":"DejaVu Sans Mono","fontSize":9},"encoding":{"y":{"datum":113},"text":{"value":"Meese et al. 1994"}}},
    {"mark":{"type":"text","align":"left","baseline":"middle","font":"DejaVu Sans Mono","fontSize":17},"encoding":{"y":{"datum":127},"text":{"value":"Sowers et al. 1993"}}},
    {"mark":{"type":"text","align":"left","baseline":"middle","font":"DejaVu Sans Mono","fontSize":17},"encoding":{"x":{"datum":71},"y":{"datum":160},"text":{"value":"File <GISP2.NEW> High Res"}}},
    {"mark":{"type":"text","align":"left","baseline":"middle","font":"DejaVu Sans Mono","fontWeight":"bold","fontSize":14},"encoding":{"x":{"datum":26},"y":{"datum":381},"text":{"value":"Calibration Data Base:"}}},
    {"mark":{"type":"text","align":"left","baseline":"middle","font":"DejaVu Sans Mono","fontWeight":"bold","fontSize":14},"encoding":{"x":{"datum":15},"y":{"datum":405},"text":{"value":"File c.\\calpal\\calcurve\\CalPal_A.ext (IN"}}}
   ]}
]
}
